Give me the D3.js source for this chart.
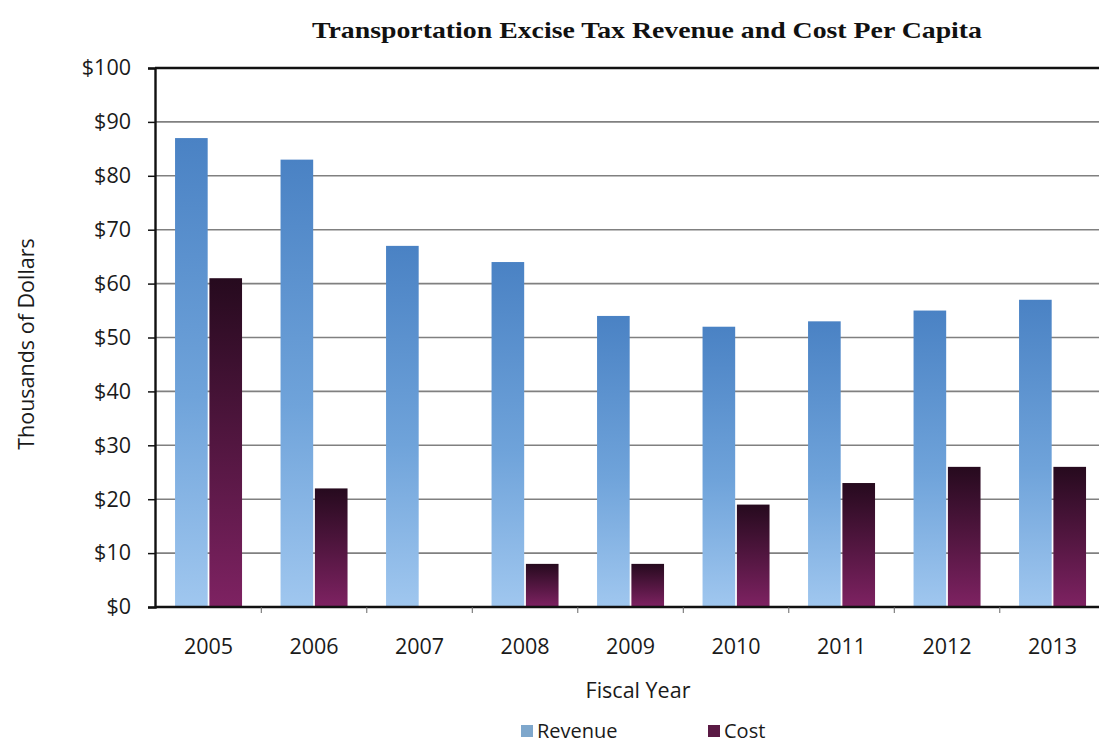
<!DOCTYPE html>
<html>
<head>
<meta charset="utf-8">
<script src="https://cdn.jsdelivr.net/npm/d3@7"></script>
<style>
  html, body { margin: 0; padding: 0; background: #ffffff; }
  svg { display: block; }
</style>
</head>
<body>
<script>
// Fiscal years and per-capita figures (thousands of dollars)
const years = ["2005", "2006", "2007", "2008", "2009", "2010", "2011", "2012", "2013"];
const revenue = [87, 83, 67, 64, 54, 52, 53, 55, 57];
const cost = [61, 22, 0, 8, 8, 19, 23, 26, 26];
const seriesNames = ["Revenue", "Cost"];
const yTicks = [0, 10, 20, 30, 40, 50, 60, 70, 80, 90, 100];

const W = 1099, H = 744;
const plotLeft = 155, plotTop = 68, plotBottom = 607;
const step = 105.5;

const svg = d3.select("body").append("svg")
  .attr("width", W).attr("height", H);

const defs = svg.append("defs");
const gradRev = defs.append("linearGradient").attr("id", "gRev")
  .attr("x1", 0).attr("y1", 0).attr("x2", 0).attr("y2", 1);
gradRev.append("stop").attr("offset", "0%").attr("stop-color", "#4a82c4");
gradRev.append("stop").attr("offset", "55%").attr("stop-color", "#6fa3da");
gradRev.append("stop").attr("offset", "100%").attr("stop-color", "#a0c7ef");
const gradCost = defs.append("linearGradient").attr("id", "gCost")
  .attr("x1", 0).attr("y1", 0).attr("x2", 0).attr("y2", 1);
gradCost.append("stop").attr("offset", "0%").attr("stop-color", "#260a1e");
gradCost.append("stop").attr("offset", "100%").attr("stop-color", "#7e2262");

const fills = { Revenue: "url(#gRev)", Cost: "url(#gCost)" };
const legendFills = { Revenue: "#7ea7cc", Cost: "#5a1a44" };

const plotRight = plotLeft + step * (years.length - 0.365 + 0.38);
const x0 = d3.scaleBand().domain(years).range([plotLeft, plotRight])
  .paddingInner(0.365).paddingOuter(0.19);
const x1 = d3.scaleBand().domain(seriesNames).range([0, x0.bandwidth()])
  .paddingInner(0.05);
const y = d3.scaleLinear().domain([0, 100]).range([plotBottom, plotTop]);

const font = "'Open Sans', 'Noto Sans', sans-serif";
const fs = 21.5;

// Gridlines
svg.append("g").selectAll("line").data(yTicks.filter(t => t > 0 && t < 100)).join("line")
  .attr("x1", plotLeft).attr("x2", W)
  .attr("y1", d => y(d)).attr("y2", d => y(d))
  .attr("stroke", "#808080").attr("stroke-width", 1.6);

// Top border
svg.append("line").attr("x1", plotLeft).attr("x2", W)
  .attr("y1", y(100)).attr("y2", y(100))
  .attr("stroke", "#111").attr("stroke-width", 2.4);

// Bars
const rows = years.map((yr, i) => ({ year: yr, values: [
  { key: "Revenue", value: revenue[i] },
  { key: "Cost", value: cost[i] }
]}));

const groups = svg.append("g").selectAll("g").data(rows).join("g")
  .attr("transform", d => `translate(${x0(d.year)},0)`);
groups.selectAll("rect").data(d => d.values.filter(v => v.value > 0)).join("rect")
  .attr("x", d => x1(d.key))
  .attr("width", x1.bandwidth())
  .attr("y", d => y(d.value))
  .attr("height", d => y(0) - y(d.value))
  .attr("fill", d => fills[d.key]);

// Y axis
const yAxis = d3.axisLeft(y).tickValues(yTicks).tickSize(7).tickPadding(17)
  .tickFormat(d => "$" + d);
const gy = svg.append("g").attr("transform", `translate(${plotLeft},0)`).call(yAxis);
gy.select(".domain").attr("stroke", "#111").attr("stroke-width", 2.4);
gy.selectAll(".tick line").attr("stroke", "#111").attr("stroke-width", 1.5);
gy.selectAll("text").attr("font-family", font).attr("font-size", fs).attr("fill", "#1a1a1a");

// X axis
const xAxis = d3.axisBottom(x0).tickSize(0).tickPadding(32);
const gx = svg.append("g").attr("transform", `translate(0,${plotBottom})`).call(xAxis);
gx.select(".domain").remove();
gx.selectAll("text").attr("font-family", font).attr("font-size", fs).attr("fill", "#1a1a1a");
svg.append("line").attr("x1", plotLeft).attr("x2", W)
  .attr("y1", plotBottom).attr("y2", plotBottom)
  .attr("stroke", "#111").attr("stroke-width", 2.4);
// category separators
svg.append("g").selectAll("line").data(years.slice(1)).join("line")
  .attr("x1", d => x0(d) - x0.step() * x0.paddingInner() / 2)
  .attr("x2", d => x0(d) - x0.step() * x0.paddingInner() / 2)
  .attr("y1", plotBottom).attr("y2", plotBottom + 6)
  .attr("stroke", "#666").attr("stroke-width", 1);

// Title
svg.append("text").attr("x", 647).attr("y", 38)
  .attr("text-anchor", "middle")
  .attr("font-family", "'Liberation Serif', 'DejaVu Serif', serif")
  .attr("font-weight", "bold").attr("font-size", 24)
  .attr("textLength", 670).attr("lengthAdjust", "spacingAndGlyphs")
  .attr("fill", "#111")
  .text("Transportation Excise Tax Revenue and Cost Per Capita");

// Axis titles
svg.append("text").attr("transform", "translate(34,344) rotate(-90)")
  .attr("text-anchor", "middle").attr("font-family", font).attr("font-size", fs)
  .attr("fill", "#1a1a1a").text("Thousands of Dollars");
svg.append("text").attr("x", 638).attr("y", 698)
  .attr("text-anchor", "middle").attr("font-family", font).attr("font-size", fs)
  .attr("fill", "#1a1a1a").text("Fiscal Year");

// Legend
const legendX = [521, 708];
const lg = svg.append("g").selectAll("g").data(seriesNames).join("g")
  .attr("transform", (d, i) => `translate(${legendX[i]},725)`);
lg.append("rect").attr("width", 12).attr("height", 12)
  .attr("fill", d => legendFills[d]);
lg.append("text").attr("x", 16).attr("y", 12.5)
  .attr("font-family", font).attr("font-size", 20).attr("fill", "#1a1a1a")
  .text(d => d);
</script>
</body>
</html>
